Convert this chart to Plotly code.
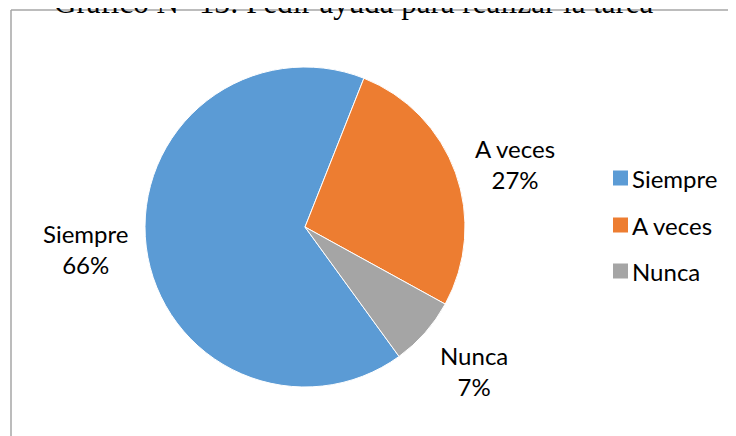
import plotly.graph_objects as go

W, H = 736, 436
OFF = 8  # browser body margin

title = "Gráfico N° 13: Pedir ayuda para realizar la tarea"
categories = ["Siempre", "A veces", "Nunca"]
values = [66, 27, 7]
colors = ["#5B9BD5", "#ED7D31", "#A5A5A5"]

def px(x):
    return (x - OFF) / W

def py(y):
    return 1 - (y - OFF) / H

fig = go.Figure()
fig.add_trace(go.Pie(
    labels=categories,
    values=values,
    sort=False,
    direction="clockwise",
    rotation=144,
    marker=dict(colors=colors, line=dict(color="white", width=1)),
    textinfo="none",
    hoverinfo="label+percent",
    showlegend=False,
    domain=dict(x=[px(145), px(465)], y=[py(387), py(67)]),
))

font_lbl = dict(family="Lato, Open Sans, sans-serif", size=24, color="#000000")

# data labels (outside)
label_pos = [(85, 249), (515, 164), (474, 371)]
annotations = []
for cat, val, (lx, ly) in zip(categories, values, label_pos):
    annotations.append(dict(
        x=px(lx), y=py(ly), xref="paper", yref="paper",
        text=f"{cat}<br>{val}%", showarrow=False, font=font_lbl,
        xanchor="center", yanchor="middle", align="center",
    ))

# custom legend
leg_y = [178, 225, 271]
shapes = []
for cat, col, ly in zip(categories, colors, leg_y):
    shapes.append(dict(type="rect", xref="paper", yref="paper",
                       x0=px(613), x1=px(628), y0=py(ly + 7.5), y1=py(ly - 7.5),
                       fillcolor=col, line=dict(width=0)))
    annotations.append(dict(
        x=px(630), y=py(ly), xref="paper", yref="paper", text=cat,
        showarrow=False, font=font_lbl, xanchor="left", yanchor="middle",
    ))

# title (clipped at top in reference)
annotations.append(dict(
    x=px(354), y=py(22), xref="paper", yref="paper", text=title, showarrow=False,
    font=dict(family="Liberation Serif, Times New Roman, serif", size=31, color="#000000"),
    xanchor="center", yanchor="bottom",
))

# frame
shapes.append(dict(type="line", xref="paper", yref="paper",
                   x0=px(11), x1=px(11), y0=py(10), y1=py(460),
                   line=dict(color="#A6A6A6", width=1.5)))
shapes.append(dict(type="line", xref="paper", yref="paper",
                   x0=px(11), x1=px(760), y0=py(10), y1=py(10),
                   line=dict(color="#A6A6A6", width=1.5)))

fig.update_layout(
    width=W, height=H,
    margin=dict(l=0, r=0, t=0, b=0),
    paper_bgcolor="white", plot_bgcolor="white",
    annotations=annotations, shapes=shapes,
    showlegend=False,
)

fig.write_html("out.html")
